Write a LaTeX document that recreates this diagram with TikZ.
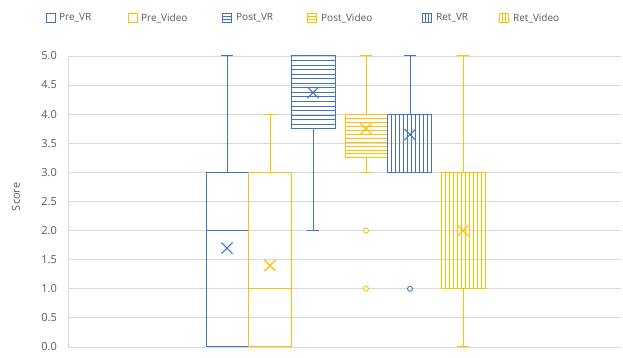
\documentclass[tikz,border=0pt]{standalone}
\usepackage{fontspec}
\setmainfont{Open Sans}
\usetikzlibrary{shapes.misc}

\definecolor{vrblue}{RGB}{68,114,196}
\definecolor{vidyellow}{RGB}{255,192,0}
\definecolor{gridgray}{RGB}{217,217,217}
\definecolor{labelgray}{RGB}{89,89,89}

\begin{document}
\begin{tikzpicture}[x=1pt, y=1pt,
    boxline/.style={line width=1pt},
    hatch/.style={line width=0.8pt},
    meanmark/.style={cross out, draw, line width=1.1pt, minimum size=10pt, inner sep=0pt},
    outlier/.style={circle, fill=white, line width=0.9pt, minimum size=5pt, inner sep=0pt},
    ticklabel/.style={anchor=east, inner sep=0pt, text=labelgray, font=\fontsize{11}{12}\selectfont},
    legendtext/.style={anchor=west, inner sep=0pt, text=labelgray, font=\fontsize{10}{11}\selectfont},
    legendbox/.style={line width=0.8pt, minimum size=8.5pt, inner sep=0pt}]

    % Fix the page to the size of the chart
    \useasboundingbox (0,0) rectangle (623,358);

    % Inside this scope a score v sits at height 11 + 58.2 v
    \begin{scope}[yshift=11pt, y=58.2pt]

    % Grid lines and score labels
    \draw[gridgray, line width=0.8pt] (68,0) -- (68,5);
    \foreach \v/\t in {0/0.0, 0.5/0.5, 1/1.0, 1.5/1.5, 2/2.0, 2.5/2.5, 3/3.0, 3.5/3.5, 4/4.0, 4.5/4.5, 5/5.0} {
        \draw[gridgray, line width=0.8pt] (68,\v) -- (621,\v);
        \node[ticklabel] (tick\t) at (57,\v) {\t};
    }

    % Axis title
    \node[rotate=90, text=labelgray, font=\fontsize{11}{12}\selectfont] (score) at (16,2.58) {Score};

    % Pre_VR: box 0 to 3, median 2, whisker up to 5
    \draw[vrblue, boxline] (206,0) rectangle (248,3);
    \draw[vrblue, boxline] (206,2) -- (248,2);
    \draw[vrblue, boxline] (227,3) -- (227,5);
    \draw[vrblue, boxline] (221,5) -- (233,5);
    \node[meanmark, vrblue] (meanPreVR) at (227,1.7) {};

    % Pre_Video: box 0 to 3, median 1, whisker up to 4
    \draw[vidyellow, boxline] (248,0) rectangle (291.5,3);
    \draw[vidyellow, boxline] (248,1) -- (291.5,1);
    \draw[vidyellow, boxline] (270,3) -- (270,4);
    \draw[vidyellow, boxline] (264,4) -- (276,4);
    \node[meanmark, vidyellow] (meanPreVideo) at (270,1.4) {};

    % Post_VR: box 3.75 to 5 with level stripes, whisker down to 2
    \foreach \k in {1,...,15}
        \draw[vrblue, hatch] ([yshift=\k*4.55pt]291.5,3.75) -- ([yshift=\k*4.55pt]335,3.75);
    \draw[vrblue, boxline] (291.5,3.75) rectangle (335,5);
    \draw[vrblue, boxline] (313,3.75) -- (313,2);
    \draw[vrblue, boxline] (307,2) -- (319,2);
    \node[meanmark, vrblue] (meanPostVR) at (313,4.37) {};

    % Post_Video: box 3.25 to 4 with level stripes, whiskers 3 and 5, two outliers
    \foreach \k in {1,...,10}
        \draw[vidyellow, hatch] ([yshift=\k*3.97pt]345,3.25) -- ([yshift=\k*3.97pt]387,3.25);
    \draw[vidyellow, boxline] (345,3.25) rectangle (387,4);
    \draw[vidyellow, boxline] (366,4) -- (366,5);
    \draw[vidyellow, boxline] (360,5) -- (372,5);
    \draw[vidyellow, boxline] (366,3.25) -- (366,3);
    \draw[vidyellow, boxline] (360,3) -- (372,3);
    \node[meanmark, vidyellow] (meanPostVideo) at (366,3.75) {};
    \node[outlier, draw=vidyellow] (outPostVideoA) at (366,2) {};
    \node[outlier, draw=vidyellow] (outPostVideoB) at (366,1) {};

    % Ret_VR: box 3 to 4 with upright stripes, whisker up to 5, one outlier
    \foreach \k in {1,...,10}
        \draw[vrblue, hatch] (387.5+\k*3.95,3) -- (387.5+\k*3.95,4);
    \draw[vrblue, boxline] (387.5,3) rectangle (431,4);
    \draw[vrblue, boxline] (410,4) -- (410,5);
    \draw[vrblue, boxline] (404,5) -- (416,5);
    \node[meanmark, vrblue] (meanRetVR) at (410,3.65) {};
    \node[outlier, draw=vrblue] (outRetVR) at (410,1) {};

    % Ret_Video: box 1 to 3 with upright stripes, whiskers 0 and 5
    \foreach \k in {1,...,10}
        \draw[vidyellow, hatch] (441+\k*4,1) -- (441+\k*4,3);
    \draw[vidyellow, boxline] (441,1) rectangle (485,3);
    \draw[vidyellow, boxline] (463,3) -- (463,5);
    \draw[vidyellow, boxline] (457,5) -- (469,5);
    \draw[vidyellow, boxline] (463,1) -- (463,0);
    \draw[vidyellow, boxline] (457,0) -- (469,0);
    \node[meanmark, vidyellow] (meanRetVideo) at (463,2) {};

    \end{scope}

    % Legend along the top
    \node[legendbox, draw=vrblue] (keyPreVR) at (51,340) {};
    \node[legendtext] (txtPreVR) at (59,340) {Pre\_VR};
    \node[legendbox, draw=vidyellow] (keyPreVideo) at (133,340) {};
    \node[legendtext] (txtPreVideo) at (141,340) {Pre\_Video};
    \node[legendbox, draw=vrblue] (keyPostVR) at (227,340) {};
    \draw[vrblue, legendbox] ([yshift=1.4pt]keyPostVR.west) -- ([yshift=1.4pt]keyPostVR.east);
    \draw[vrblue, legendbox] ([yshift=-1.4pt]keyPostVR.west) -- ([yshift=-1.4pt]keyPostVR.east);
    \node[legendtext] (txtPostVR) at (236,340) {Post\_VR};
    \node[legendbox, draw=vidyellow] (keyPostVideo) at (312,340) {};
    \draw[vidyellow, legendbox] ([yshift=1.4pt]keyPostVideo.west) -- ([yshift=1.4pt]keyPostVideo.east);
    \draw[vidyellow, legendbox] ([yshift=-1.4pt]keyPostVideo.west) -- ([yshift=-1.4pt]keyPostVideo.east);
    \node[legendtext] (txtPostVideo) at (321,340) {Post\_Video};
    \node[legendbox, draw=vrblue] (keyRetVR) at (427,340) {};
    \draw[vrblue, legendbox] ([xshift=1.4pt]keyRetVR.north) -- ([xshift=1.4pt]keyRetVR.south);
    \draw[vrblue, legendbox] ([xshift=-1.4pt]keyRetVR.north) -- ([xshift=-1.4pt]keyRetVR.south);
    \node[legendtext] (txtRetVR) at (436,340) {Ret\_VR};
    \node[legendbox, draw=vidyellow] (keyRetVideo) at (504,340) {};
    \draw[vidyellow, legendbox] ([xshift=1.4pt]keyRetVideo.north) -- ([xshift=1.4pt]keyRetVideo.south);
    \draw[vidyellow, legendbox] ([xshift=-1.4pt]keyRetVideo.north) -- ([xshift=-1.4pt]keyRetVideo.south);
    \node[legendtext] (txtRetVideo) at (513,340) {Ret\_Video};

\end{tikzpicture}
\end{document}
